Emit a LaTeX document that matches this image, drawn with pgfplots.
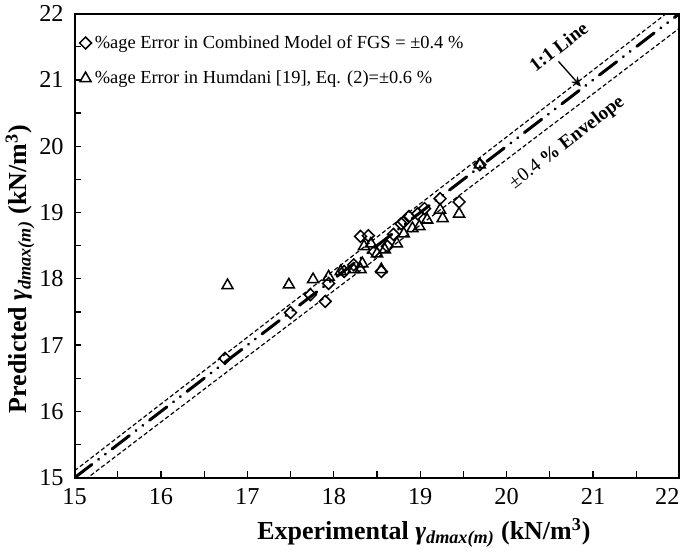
\documentclass[border=0pt]{standalone}
\usepackage{fontspec}
\setmainfont{Liberation Serif}
\usepackage{pgfplots}
\pgfplotsset{compat=1.18}
\usetikzlibrary{arrows.meta}
\begin{document}
\begin{tikzpicture}
\begin{axis}[
  scale only axis, width=361pt, height=277pt,
  xmin=15, xmax=22, ymin=15, ymax=22,
  xtick={15,...,22}, ytick={15,...,22},
  xticklabels={15,16,17,18,19,20,21,{\makebox[0pt][r]{22}}},
  minor x tick num=1, minor y tick num=1,
  tick align=inside, tick pos=left,
  major tick length=4pt, minor tick length=4pt,
  every tick/.style={black, line width=0.8pt},
  axis line style={line width=1.1pt},
  ticklabel style={font=\fontsize{14.5}{14.5}\selectfont},
  yticklabel style={xshift=-3pt},
  xticklabel style={yshift=-3pt},
  /pgf/number format/assume math mode=true,
  xlabel={\textbf{Experimental \textit{γ}\textsubscript{\textit{dmax(m)}} (kN/m\textsuperscript{3})}},
  ylabel={\textbf{Predicted \textit{γ}\textsubscript{\textit{dmax(m)}} (kN/m\textsuperscript{3})}},
  label style={font=\fontsize{15.5}{17}\selectfont},
  xlabel style={yshift=-1pt, xshift=28pt},
  ylabel style={yshift=-4pt, xshift=-14pt},
  legend style={draw=none, fill=none, at={(0.005,0.965)}, anchor=north west,
    font=\fontsize{11}{12}\selectfont, row sep=8pt, inner sep=1pt},
  legend cell align=left,
  legend image post style={xshift=1pt},
]
\addplot[only marks, mark=square, mark size=2.5pt, every mark/.append style={rotate=45, line width=0.9pt}, black]
coordinates {
(16.74,16.80) (17.50,17.49) (17.73,17.76) (17.90,17.66) (17.94,17.93)
(18.12,18.11) (18.23,18.21) (18.31,18.64) (18.40,18.65) (18.47,18.41)
(18.55,18.11) (18.69,18.67) (18.78,18.83) (18.87,18.94) (18.97,18.98)
(19.05,19.06) (19.23,19.21) (19.45,19.16) (19.69,19.72) (18.81,18.86)
(18.62,18.49)
};
\addlegendentry{\%age Error in Combined Model of FGS = ±0.4 \%}
\addplot[only marks, mark=triangle, mark size=3.8pt, every mark/.append style={line width=0.9pt}, black]
coordinates {
(16.77,17.90) (17.48,17.91) (17.76,17.99) (17.94,18.03) (18.08,18.11)
(18.23,18.14) (18.33,18.23) (18.35,18.49) (18.43,18.53) (18.31,18.14)
(18.59,18.44) (18.50,18.38) (18.73,18.53) (18.81,18.68) (18.91,18.76)
(18.99,18.79) (19.08,18.89) (19.23,19.04) (19.26,18.91) (19.45,18.98)
(19.69,19.72) (18.55,18.14)
};
\addlegendentry{\%age Error in Humdani [19], Eq. (2)=±0.6 \%}
\addplot[forget plot, black, line width=1.8pt, line cap=round,
  dash pattern=on 13pt off 5pt on 0.1pt off 5pt on 0.1pt off 5pt]
coordinates {(15,15) (22,22)};
\addplot[forget plot, black, line width=0.7pt, dash pattern=on 2.5pt off 1.5pt]
coordinates {(15,15.105) (22,22.154)};
\addplot[forget plot, black, line width=0.7pt, dash pattern=on 2.5pt off 1.5pt]
coordinates {(15,14.85) (22,21.78)};
\node[rotate=37.7, font=\bfseries\fontsize{11.5}{12}\selectfont] at (axis cs:20.60,21.50) {1:1 Line};
\draw[-{Stealth[length=6pt,width=5pt]}, line width=0.8pt] (axis cs:20.60,21.28) -- (axis cs:20.86,20.90);
\node[rotate=37.7, font=\fontsize{11.5}{12}\selectfont] at (axis cs:20.70,20.05) {±0.4 \textbf{\% Envelope}};
\path (rel axis cs:1,0) ++(3.5pt,0);
\end{axis}
\end{tikzpicture}
\end{document}
